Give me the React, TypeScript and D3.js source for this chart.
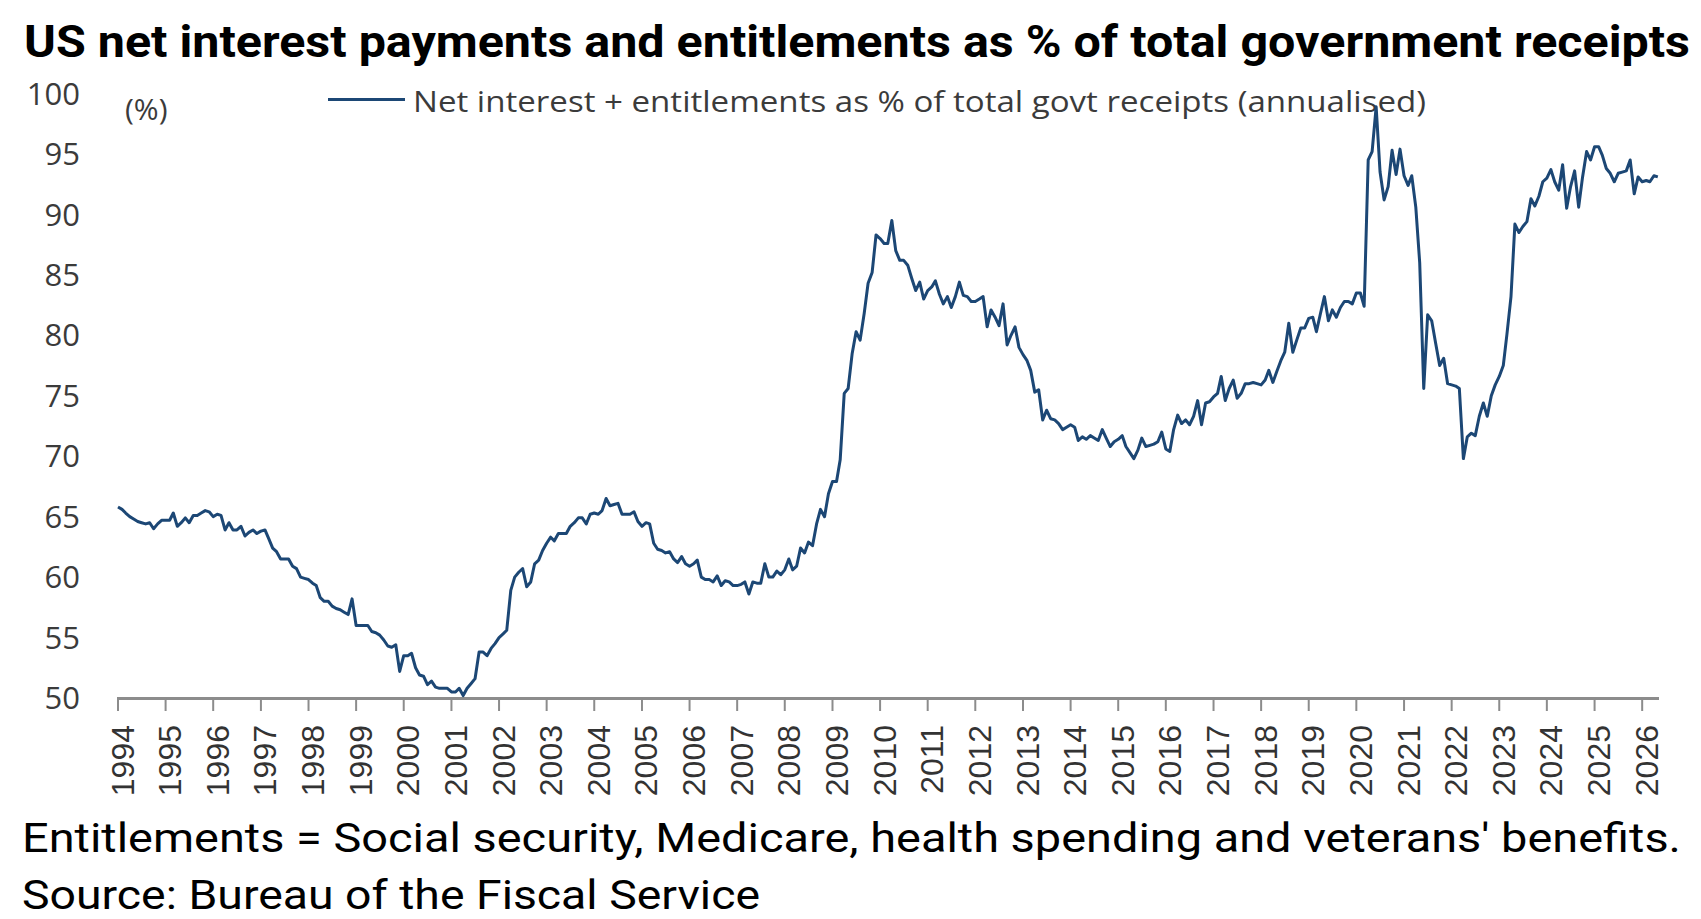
import * as d3 from "d3";
import { useEffect, useRef } from "react";

const WIDTH = 1701;
const HEIGHT = 919;
const PLOT = { left: 118, right: 1659, top: 93.5, bottom: 698 };
const LINE_COLOR = "#1c4775";
const AXIS_COLOR = "#8c8c8c";

const TITLE = "US net interest payments and entitlements as % of total government receipts";
const SERIES_LABEL = "Net interest + entitlements as % of total govt receipts (annualised)";
const UNIT_LABEL = "(%)";
const FOOTNOTE = "Entitlements = Social security, Medicare, health spending and veterans' benefits.";
const SOURCE = "Source: Bureau of the Fiscal Service";

const yearTicks = [
  1994, 1995, 1996, 1997, 1998, 1999, 2000, 2001, 2002, 2003, 2004, 2005, 2006, 2007, 2008, 2009,
  2010, 2011, 2012, 2013, 2014, 2015, 2016, 2017, 2018, 2019, 2020, 2021, 2022, 2023, 2024, 2025, 2026,
];
const valueTicks = [50, 55, 60, 65, 70, 75, 80, 85, 90, 95, 100];

// Monthly observations, Jan 1994 onwards (% of total receipts, annualised).
const START_YEAR = 1994;
const values = [
  65.8, 65.6, 65.3, 65.0, 64.8, 64.6, 64.5, 64.4, 64.5, 64.0, 64.4, 64.7, // 1994
  64.7, 64.7, 65.3, 64.2, 64.5, 64.9, 64.5, 65.1, 65.1, 65.3, 65.5, 65.4, // 1995
  65.0, 65.2, 65.1, 63.9, 64.5, 63.9, 63.9, 64.2, 63.4, 63.7, 63.9, 63.6, // 1996
  63.8, 63.9, 63.2, 62.4, 62.1, 61.5, 61.5, 61.5, 60.9, 60.7, 60.0, 59.9, // 1997
  59.8, 59.5, 59.3, 58.3, 58.0, 58.0, 57.6, 57.4, 57.3, 57.1, 56.9, 58.2, // 1998
  56.0, 56.0, 56.0, 56.0, 55.5, 55.4, 55.2, 54.8, 54.3, 54.2, 54.4, 52.2, // 1999
  53.5, 53.5, 53.7, 52.5, 51.9, 51.8, 51.1, 51.4, 50.9, 50.8, 50.8, 50.8, // 2000
  50.5, 50.5, 50.8, 50.2, 50.8, 51.2, 51.6, 53.8, 53.8, 53.5, 54.1, 54.5, // 2001
  55.0, 55.3, 55.6, 58.9, 60.0, 60.4, 60.7, 59.2, 59.6, 61.1, 61.4, 62.2, // 2002
  62.8, 63.3, 63.0, 63.6, 63.6, 63.6, 64.2, 64.5, 64.9, 64.9, 64.4, 65.2, // 2003
  65.3, 65.2, 65.5, 66.5, 65.9, 66.0, 66.1, 65.2, 65.2, 65.2, 65.4, 64.6, // 2004
  64.2, 64.5, 64.4, 62.8, 62.3, 62.2, 62.0, 62.1, 61.5, 61.2, 61.7, 61.1, // 2005
  60.9, 61.1, 61.4, 60.0, 59.8, 59.8, 59.6, 60.1, 59.3, 59.7, 59.6, 59.3, // 2006
  59.3, 59.4, 59.6, 58.6, 59.6, 59.5, 59.5, 61.1, 60.0, 60.0, 60.5, 60.2, // 2007
  60.6, 61.5, 60.6, 60.9, 62.4, 62.0, 62.9, 62.6, 64.4, 65.6, 65.0, 66.9, // 2008
  67.9, 67.9, 69.7, 75.2, 75.6, 78.5, 80.3, 79.6, 81.8, 84.3, 85.2, 88.3, // 2009
  88.0, 87.6, 87.6, 89.5, 87.0, 86.2, 86.2, 85.8, 84.7, 83.7, 84.4, 83.0, // 2010
  83.7, 84.0, 84.5, 83.4, 82.6, 83.2, 82.3, 83.2, 84.4, 83.3, 83.2, 82.8, // 2011
  82.8, 83.0, 83.2, 80.7, 82.1, 81.5, 80.8, 82.6, 79.2, 80.0, 80.7, 79.0, // 2012
  78.4, 77.9, 77.1, 75.3, 75.5, 73.0, 73.8, 73.1, 73.0, 72.7, 72.2, 72.4, // 2013
  72.6, 72.4, 71.3, 71.6, 71.4, 71.7, 71.5, 71.3, 72.2, 71.5, 70.8, 71.2, // 2014
  71.4, 71.7, 70.8, 70.3, 69.8, 70.5, 71.5, 70.8, 70.9, 71.0, 71.2, 72.0, // 2015
  70.6, 70.4, 72.2, 73.4, 72.7, 73.0, 72.6, 73.3, 74.6, 72.6, 74.4, 74.5, // 2016
  74.9, 75.2, 76.6, 74.6, 75.6, 76.3, 74.8, 75.2, 76.0, 76.0, 76.1, 76.0, // 2017
  75.9, 76.3, 77.1, 76.1, 77.0, 77.9, 78.6, 81.0, 78.6, 79.6, 80.6, 80.6, // 2018
  81.4, 81.5, 80.3, 81.8, 83.2, 81.2, 82.1, 81.5, 82.3, 82.8, 82.8, 82.6, // 2019
  83.5, 83.5, 82.4, 94.5, 95.2, 98.9, 93.5, 91.2, 92.3, 95.3, 93.3, 95.4, // 2020
  93.2, 92.4, 93.2, 90.6, 86.0, 75.6, 81.7, 81.2, 79.3, 77.5, 78.1, 76.0, // 2021
  75.9, 75.8, 75.6, 69.8, 71.6, 71.9, 71.7, 73.3, 74.4, 73.3, 75.0, 75.9, // 2022
  76.6, 77.5, 80.1, 83.2, 89.2, 88.5, 89.0, 89.4, 91.3, 90.7, 91.5, 92.7, // 2023
  93.0, 93.7, 92.7, 92.0, 94.1, 90.5, 92.3, 93.6, 90.6, 93.1, 95.2, 94.5, // 2024
  95.6, 95.6, 94.9, 93.8, 93.4, 92.7, 93.4, 93.5, 93.6, 94.5, 91.7, 93.1, // 2025
  92.7, 92.8, 92.7, 93.2, 93.1, // 2026
];

function ReceiptsChart() {
  const ref = useRef<SVGSVGElement>(null);

  useEffect(() => {
    const svg = d3.select(ref.current);
    svg.selectAll("*").remove();

    const monthOf = (i: number) => new Date(START_YEAR, i, 1);
    const x = d3
      .scaleTime()
      .domain([new Date(1994, 0, 1), new Date(2026, 4, 10)])
      .range([PLOT.left, PLOT.right]);
    const y = d3.scaleLinear().domain([50, 100]).range([PLOT.bottom, PLOT.top]);

    // Title + notes
    svg
      .append("text")
      .attr("x", 24)
      .attr("y", 56.5)
      .attr("font-family", "Roboto, 'Noto Sans', sans-serif")
      .attr("font-weight", 700)
      .attr("font-size", 44)
      .attr("fill", "#000")
      .attr("textLength", 1666)
      .attr("lengthAdjust", "spacingAndGlyphs")
      .text(TITLE);

    const notes = svg
      .append("g")
      .attr("font-family", "Roboto, 'Noto Sans', sans-serif")
      .attr("fill", "#000");
    notes
      .append("text")
      .attr("x", 22)
      .attr("y", 851.5)
      .attr("font-size", 41)
      .attr("textLength", 1659)
      .attr("lengthAdjust", "spacingAndGlyphs")
      .text(FOOTNOTE);
    notes
      .append("text")
      .attr("x", 22)
      .attr("y", 909)
      .attr("font-size", 40)
      .attr("textLength", 738)
      .attr("lengthAdjust", "spacingAndGlyphs")
      .text(SOURCE);

    // Y tick labels (no gridlines, no axis line).
    svg
      .append("g")
      .attr("font-family", "'Open Sans', 'Noto Sans', sans-serif")
      .attr("font-size", 31)
      .attr("fill", "#3b3b3b")
      .selectAll("text")
      .data(valueTicks)
      .join("text")
      .attr("x", 80)
      .attr("y", (d) => y(d))
      .attr("dy", "0.36em")
      .attr("text-anchor", "end")
      .text((d) => d);

    svg
      .append("text")
      .attr("x", 125)
      .attr("y", 120)
      .attr("font-family", "'Open Sans', 'Noto Sans', sans-serif")
      .attr("font-size", 30)
      .attr("fill", "#3b3b3b")
      .text(UNIT_LABEL);

    // Legend
    svg
      .append("line")
      .attr("x1", 328)
      .attr("x2", 405)
      .attr("y1", 99.5)
      .attr("y2", 99.5)
      .attr("stroke", LINE_COLOR)
      .attr("stroke-width", 3);
    svg
      .append("text")
      .attr("x", 413)
      .attr("y", 111.5)
      .attr("font-family", "'Open Sans', 'Noto Sans', sans-serif")
      .attr("font-size", 30)
      .attr("fill", "#3b3b3b")
      .attr("textLength", 1013)
      .attr("lengthAdjust", "spacingAndGlyphs")
      .text(SERIES_LABEL);

    // X axis: baseline, yearly ticks, rotated labels.
    const xAxis = svg.append("g");
    xAxis
      .append("line")
      .attr("x1", PLOT.left - 1)
      .attr("x2", PLOT.right)
      .attr("y1", PLOT.bottom + 0.5)
      .attr("y2", PLOT.bottom + 0.5)
      .attr("stroke", AXIS_COLOR)
      .attr("stroke-width", 3);
    xAxis
      .selectAll("line.tick")
      .data(yearTicks)
      .join("line")
      .attr("class", "tick")
      .attr("x1", (d) => x(new Date(d, 0, 1)))
      .attr("x2", (d) => x(new Date(d, 0, 1)))
      .attr("y1", PLOT.bottom)
      .attr("y2", PLOT.bottom + 13)
      .attr("stroke", AXIS_COLOR)
      .attr("stroke-width", 2);
    xAxis
      .selectAll("text")
      .data(yearTicks)
      .join("text")
      .attr("transform", (d) => `translate(${x(new Date(d, 0, 1))},725) rotate(-90)`)
      .attr("x", 0)
      .attr("y", 15.5)
      .attr("text-anchor", "end")
      .attr("font-family", "'Liberation Sans', Arial, sans-serif")
      .attr("font-size", 32)
      .attr("fill", "#333")
      .text((d) => d);

    // Series line
    const line = d3
      .line<number>()
      .x((_, i) => x(monthOf(i)))
      .y((d) => y(d));
    svg
      .append("path")
      .datum(values)
      .attr("fill", "none")
      .attr("stroke", LINE_COLOR)
      .attr("stroke-width", 3)
      .attr("stroke-linejoin", "round")
      .attr("d", line);
  }, []);

  return (
    <svg
      ref={ref}
      width={WIDTH}
      height={HEIGHT}
      viewBox={`0 0 ${WIDTH} ${HEIGHT}`}
      style={{ position: "absolute", left: 0, top: 0, display: "block", background: "#fff" }}
      role="img"
      aria-label="US net interest payments and entitlements as % of total government receipts, 1994-2026"
    />
  );
}

export default function App() {
  return <ReceiptsChart />;
}
